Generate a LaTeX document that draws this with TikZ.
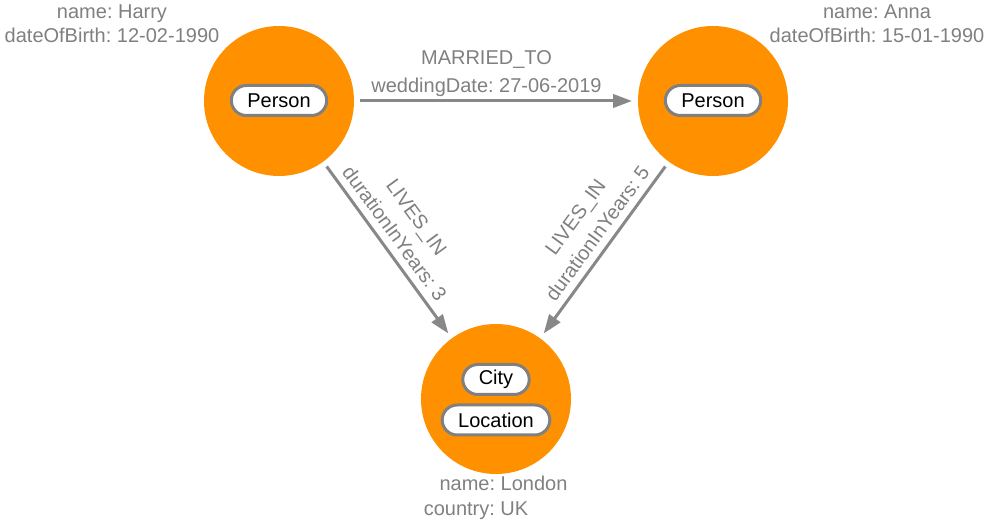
\documentclass[tikz,border=0pt]{standalone}
\usepackage{fontspec}
\setmainfont{Liberation Sans}
\usetikzlibrary{arrows.meta}
\definecolor{nodeorange}{HTML}{FF9100}
\definecolor{edgegray}{HTML}{888888}
\definecolor{textgray}{HTML}{808080}
\begin{document}
\frenchspacing
\begin{tikzpicture}[x=0.75pt,y=-0.75pt,
  font=\fontsize{15}{18}\selectfont\frenchspacing,
  entity/.style={circle, fill=nodeorange, minimum size=112.5pt, inner sep=0pt, outer sep=4.5pt},
  pill/.style={rectangle, rounded corners=11.25pt, minimum height=22.5pt, inner xsep=12pt, inner ysep=0pt, draw=textgray, line width=2.25pt, fill=white, text=black},
  proptext/.style={text=textgray, anchor=base, inner sep=0pt},
  rel/.style={draw=edgegray, line width=2.25pt, -{Triangle[length=14.25pt,width=10pt]}},
  rellabel/.style={text=textgray, sloped, anchor=base, inner sep=0pt},
]
\useasboundingbox (0,0) rectangle (992,523);
\node[entity] (harry) at (279,101) {};
\node[entity] (anna) at (713,101) {};
\node[entity] (london) at (496,399) {};
\node[pill] (harryp) at (279,100.5) {Person};
\node[pill] (annap) at (713,100.5) {Person};
\node[pill] (city) at (496,379.5) {City};
\node[pill] (loc) at (496,420) {Location};
\node[proptext] (hname) at (112,19) {name: Harry};
\node[proptext] (hdob) at (112,43) {dateOfBirth: 12-02-1990};
\node[proptext] (aname) at (877,19) {name: Anna};
\node[proptext] (adob) at (877,43) {dateOfBirth: 15-01-1990};
\node[proptext] (lname) at (503.5,491) {name: London};
\node[proptext] (lcountry) at (476,515) {country: UK};
\draw[rel] (harry) -- (anna)
  node[rellabel, pos=0.465, yshift=6pt] (wd) {weddingDate: 27-06-2019}
  node[rellabel, pos=0.465, yshift=27pt] (mt) {MARRIED\_TO};
\draw[rel] (harry) -- (london)
  node[rellabel, pos=0.455, yshift=6.5pt] (d3) {durationInYears: 3}
  node[rellabel, pos=0.455, yshift=27pt] (li1) {LIVES\_IN};
\draw[rel] (anna) -- (london)
  node[rellabel, pos=0.455, yshift=6.5pt] (d5) {durationInYears: 5}
  node[rellabel, pos=0.455, yshift=27pt] (li2) {LIVES\_IN};
\end{tikzpicture}
\end{document}
